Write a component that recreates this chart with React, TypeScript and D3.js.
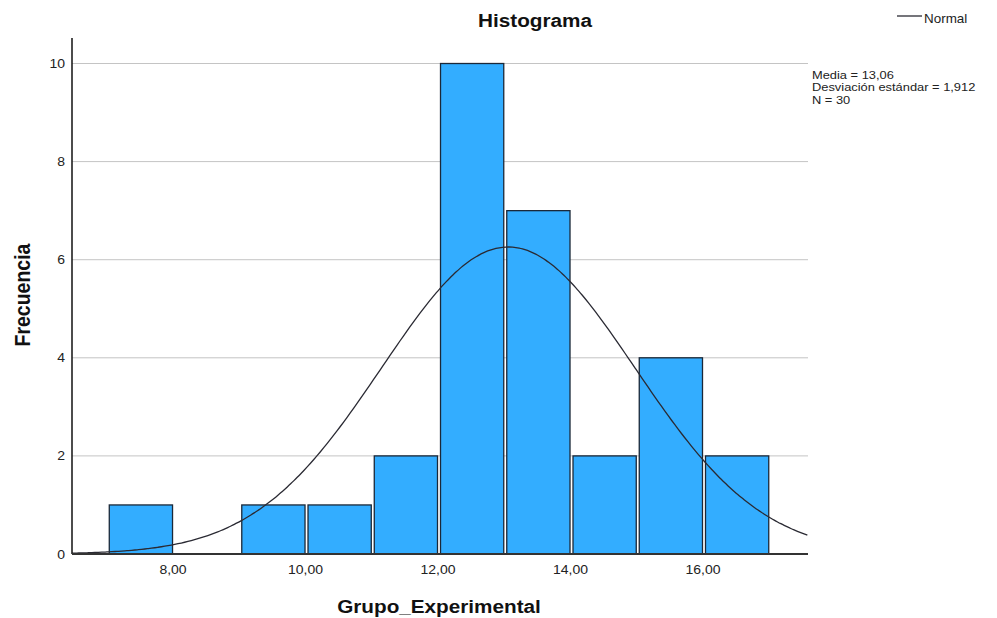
import React, { useEffect, useRef } from 'react';
import * as d3 from 'd3';

// histogram bins (lower edge, upper edge) and counts
const binStarts = [7, 8, 9, 10, 11, 12, 13, 14, 15, 16];
const binCounts = [1, 0, 1, 1, 2, 10, 7, 2, 4, 2];
const xTicks = [8, 10, 12, 14, 16];
const yTicks = [0, 2, 4, 6, 8, 10];
const media = 13.06;
const desviacion = 1.912;
const nTotal = 30;
const statLines = ['Media = 13,06', 'Desviación estándar = 1,912', 'N = 30'];

export default function App() {
    const chartRef = useRef<SVGSVGElement | null>(null);

    const width = 997;
    const height = 618;
    const plot = { left: 72, right: 808, top: 38, bottom: 554 };
    const stretch = 1.12; // the reference text is a bit wide
    const font = 'Arial, "Liberation Sans", sans-serif';

    useEffect(() => {
        const svg = d3.select(chartRef.current);
        svg.selectAll('*').remove();

        const xScale = d3.scaleLinear()
            .domain([6.475, 17.585])
            .range([plot.left, plot.right]);
        const yScale = d3.scaleLinear()
            .domain([0, 10.52])
            .range([plot.bottom, plot.top]);

        const fmt = (v: number) => v.toFixed(2).replace('.', ',');

        // gridlines
        svg.append('g')
            .selectAll('line')
            .data(yTicks.filter(t => t > 0))
            .enter()
            .append('line')
                .attr('x1', plot.left)
                .attr('x2', plot.right)
                .attr('y1', d => yScale(d))
                .attr('y2', d => yScale(d))
                .attr('stroke', '#c4c4c4')
                .attr('stroke-width', 1);

        // bars
        const bins = binStarts.map((s, i) => ({ x0: s, x1: s + 1, count: binCounts[i] }));
        svg.append('g')
            .selectAll('rect')
            .data(bins.filter(b => b.count > 0))
            .enter()
            .append('rect')
                .attr('x', d => xScale(d.x0) + 2.5)
                .attr('y', d => yScale(d.count))
                .attr('width', d => xScale(d.x1) - xScale(d.x0) - 3)
                .attr('height', d => yScale(0) - yScale(d.count))
                .attr('fill', '#33adff')
                .attr('stroke', '#1b2838')
                .attr('stroke-width', 1.3);

        // normal curve scaled to counts (bin width 1)
        const norm = (x: number) =>
            nTotal * Math.exp(-0.5 * ((x - media) / desviacion) ** 2) / (desviacion * Math.sqrt(2 * Math.PI));
        const xs = d3.range(6.475, 17.586, 0.05);
        const line = d3.line<number>()
            .x(d => xScale(d))
            .y(d => yScale(norm(d)))
            .curve(d3.curveBasis);
        svg.append('path')
            .datum(xs)
            .attr('d', line)
            .attr('fill', 'none')
            .attr('stroke', '#2a2a33')
            .attr('stroke-width', 1.3);

        // axes
        svg.append('line')
            .attr('x1', plot.left).attr('x2', plot.left)
            .attr('y1', plot.top).attr('y2', plot.bottom)
            .attr('stroke', '#111').attr('stroke-width', 1.5);
        svg.append('line')
            .attr('x1', plot.left).attr('x2', plot.right)
            .attr('y1', plot.bottom).attr('y2', plot.bottom)
            .attr('stroke', '#333').attr('stroke-width', 1.8);

        const addText = (x: number, y: number, txt: string, size: number, anchor: string,
                         bold = false, rotate = 0) => {
            svg.append('text')
                .attr('transform', `translate(${x},${y}) scale(${stretch},1)${rotate ? ` rotate(${rotate})` : ''}`)
                .attr('text-anchor', anchor)
                .attr('font-family', font)
                .attr('font-size', size)
                .attr('font-weight', bold ? 'bold' : 'normal')
                .attr('fill', bold ? '#111' : '#222')
                .text(txt);
        };

        yTicks.forEach(t => addText(65, yScale(t) + 4.5, String(t), 12.5, 'end'));
        xTicks.forEach(t => addText(xScale(t), 574, fmt(t), 12.5, 'middle'));

        addText(535, 27, 'Histograma', 18.5, 'middle', true);
        addText(439, 613, 'Grupo_Experimental', 18.5, 'middle', true);
        addText(30, 295, 'Frecuencia', 19.5, 'middle', true, -90);

        // legend
        svg.append('line')
            .attr('x1', 897).attr('x2', 922)
            .attr('y1', 16).attr('y2', 16)
            .attr('stroke', '#2a2a33').attr('stroke-width', 1.3);
        addText(924, 22.5, 'Normal', 12, 'start');

        statLines.forEach((s, i) => addText(812, 78.5 + i * 12.5, s, 11.5, 'start'));
    });

    return (
        <svg ref={chartRef}
            width={width}
            height={height}
            style={{ display: 'block', position: 'absolute', left: 0, top: 0, background: '#fff' }}>
        </svg>
    );
}
